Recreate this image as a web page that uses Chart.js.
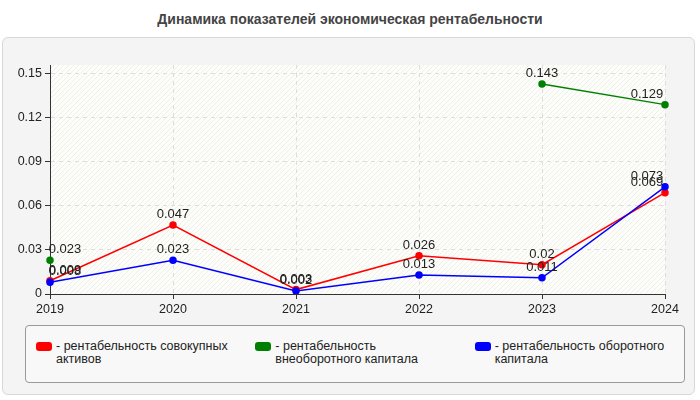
<!DOCTYPE html>
<html><head><meta charset="utf-8">
<script src="https://cdn.jsdelivr.net/npm/chart.js@4"></script>
<style>
body{margin:0;width:700px;height:400px;background:#fff;font-family:Arial,"Liberation Sans",sans-serif;position:relative;overflow:hidden}
#title{position:absolute;top:11px;left:0;width:700px;text-align:center;font-weight:bold;font-size:14px;color:#444}
#panel{position:absolute;left:2px;top:37px;width:691px;height:356px;background:#f4f4f4;border:1px solid #d8d8d8;border-radius:6px}
#wrap{position:absolute;left:0;top:40px;width:700px;height:285px}
#legend{position:absolute;left:25px;top:325px;width:658px;height:56px;border:1px solid #999;border-radius:4px;background:#f8f8f8;display:flex}
.item{flex:1;display:flex;align-items:flex-start;padding:14px 0 0 10px;font-size:12.5px;color:#222;line-height:13px}
.sw{width:16px;height:9px;border-radius:3px;margin:2px 4px 0 0;flex:none}
</style></head><body>
<div id="title">Динамика показателей экономическая рентабельности</div>
<div id="panel"></div>
<div id="wrap"><canvas id="c"></canvas></div>
<div id="legend"></div>
<script>
const years = ['2019', '2020', '2021', '2022', '2023', '2024'];
const assets = [0.009, 0.047, 0.003, 0.026, 0.02, 0.069];
const nonCurrent = [0.023, null, null, null, 0.143, 0.129];
const current = [0.008, 0.023, 0.002, 0.013, 0.011, 0.073];
const seriesNames = ['- рентабельность совокупных активов', '- рентабельность внеоборотного капитала', '- рентабельность оборотного капитала'];
const colors = ['#ff0000', '#008000', '#0000ff'];
const yTicks = [0, 0.03, 0.06, 0.09, 0.12, 0.15];

const legend = document.getElementById('legend');
seriesNames.forEach((n, i) => {
  legend.innerHTML += `<div class="item"><div class="sw" style="background:${colors[i]}"></div><div>${n}</div></div>`;
});

const bgPlugin = {
  id: 'bg',
  beforeDraw(chart) {
    const { ctx, chartArea: a } = chart;
    ctx.save();
    ctx.fillStyle = '#fdfdf9';
    ctx.fillRect(a.left, a.top, a.right - a.left, a.bottom - a.top);
    ctx.beginPath();
    ctx.rect(a.left, a.top, a.right - a.left, a.bottom - a.top);
    ctx.clip();
    ctx.strokeStyle = '#eeeeea';
    ctx.lineWidth = 1;
    for (let x = a.left - 300; x < a.right; x += 5) {
      ctx.beginPath();
      ctx.moveTo(x, a.bottom);
      ctx.lineTo(x + 300, a.bottom - 300);
      ctx.stroke();
    }
    ctx.restore();
  }
};

const labelPlugin = {
  id: 'vlabels',
  afterDatasetsDraw(chart) {
    const ctx = chart.ctx;
    ctx.save();
    ctx.font = '13px Arial, "Liberation Sans", sans-serif';
    ctx.fillStyle = '#222';
    ctx.textAlign = 'center';
    ctx.textBaseline = 'bottom';
    chart.data.datasets.forEach((ds, i) => {
      chart.getDatasetMeta(i).data.forEach((pt, j) => {
        const v = ds.data[j];
        if (v === null) return;
        let x = pt.x;
        if (j === 0) x += 15;
        if (j === 5) x -= 18;
        ctx.fillText(String(v), x, pt.y - 4);
      });
    });
    ctx.restore();
  }
};

const mk = (label, data, color) => ({
  label, data, borderColor: color, backgroundColor: color,
  borderWidth: 1.5, pointRadius: 3, pointHoverRadius: 4, spanGaps: false, tension: 0
});

new Chart(document.getElementById('c'), {
  type: 'line',
  data: {
    labels: years,
    datasets: [
      mk(seriesNames[1], nonCurrent, colors[1]),
      mk(seriesNames[2], current, colors[2]),
      mk(seriesNames[0], assets, colors[0]),
    ]
  },
  options: {
    responsive: true, maintainAspectRatio: false, animation: false,
    layout: { padding: { left: 0, right: 35, top: 25, bottom: 6 } },
    plugins: { legend: { display: false }, tooltip: { enabled: false } },
    scales: {
      x: {
        offset: false,
        afterFit: s => { s.height = 25; },
        grid: { color: '#dddddd', tickLength: 5, tickColor: '#333' },
        border: { color: '#333', dash: [4, 4] },
        ticks: { color: '#222', font: { size: 12.5 }, maxRotation: 0 }
      },
      y: {
        min: 0, max: 0.156,
        afterFit: s => { s.width = 50; },
        afterBuildTicks: s => { s.ticks = yTicks.map(v => ({ value: v })); },
        grid: { color: '#dddddd', tickLength: 5, tickColor: '#333' },
        border: { color: '#333', dash: [4, 4] },
        ticks: { color: '#222', font: { size: 12.5 }, callback: v => String(v) }
      }
    }
  },
  plugins: [bgPlugin, labelPlugin]
});
</script>
</body></html>
